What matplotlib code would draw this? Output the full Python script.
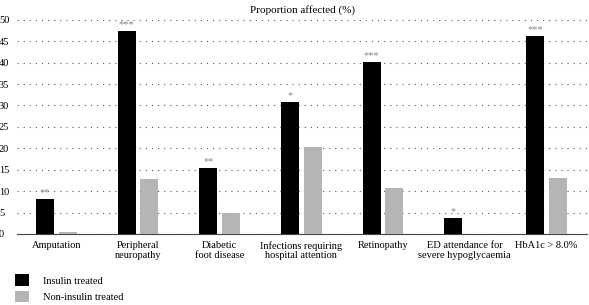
import matplotlib
matplotlib.use("Agg")
import matplotlib.pyplot as plt
import numpy as np

categories = ["Amputation", "Peripheral\nneuropathy", "Diabetic\nfoot disease",
              "Infections requiring\nhospital attention", "Retinopathy",
              "ED attendance for\nsevere hypoglycaemia", "HbA1c > 8.0%"]
insulin = [8.1, 47.4, 15.5, 30.9, 40.1, 3.7, 46.3]
non_insulin = [0.5, 12.9, 4.8, 20.4, 10.8, 0.0, 13.0]
significance = ["**", "***", "**", "*", "***", "*", "***"]
yticks = [0, 5, 10, 15, 20, 25, 30, 35, 40, 45, 50]

plt.rcParams['font.family'] = ['Liberation Serif', 'DejaVu Serif']

fig = plt.figure(figsize=(5.89, 3.05), dpi=100)
ax = fig.add_axes([0.029, 0.233, 0.968, 0.73])

x = np.arange(len(categories))
w = 0.22
off = 0.1375
b1 = ax.bar(x - off, insulin, w, color="black", label="Insulin treated", zorder=3)
b2 = ax.bar(x + off, non_insulin, w, color="#b5b5b5", label="Non-insulin treated", zorder=3)

for xi, v, s in zip(x, insulin, significance):
    ax.text(xi - off, v + 0.4, s, ha="center", va="bottom", fontsize=7.5, color="#888888")

ax.set_xlim(-0.48, len(categories) - 0.5)
ax.set_ylim(0, 52)
ax.set_yticks(yticks)
ax.set_xticks(x)
ax.set_xticklabels(categories, fontsize=7.5, linespacing=1.1)
ax.tick_params(axis="y", length=0, labelsize=7.5, pad=2)
ax.tick_params(axis="x", length=0, pad=5)
for t in ax.get_yticklabels():
    t.set_horizontalalignment("left")
    t.set_x(-0.027)
ax.yaxis.grid(True, linestyle=(0, (1, 4.5)), color="#555555", linewidth=0.8, zorder=0)
for sp in ["top", "right", "left"]:
    ax.spines[sp].set_visible(False)
ax.spines["bottom"].set_color("#444444")
ax.spines["bottom"].set_linewidth(0.8)

fig.text(0.513, 0.967, "Proportion affected (%)", ha="center", va="center", fontsize=8)

fig.legend(handles=[b1, b2], loc="lower left", bbox_to_anchor=(0.019, -0.005), frameon=False,
           fontsize=7.5, handlelength=1.3, handleheight=1.3, labelspacing=0.5, handletextpad=1.4,
           borderaxespad=0.0)

fig.savefig("out.png", dpi=100)
